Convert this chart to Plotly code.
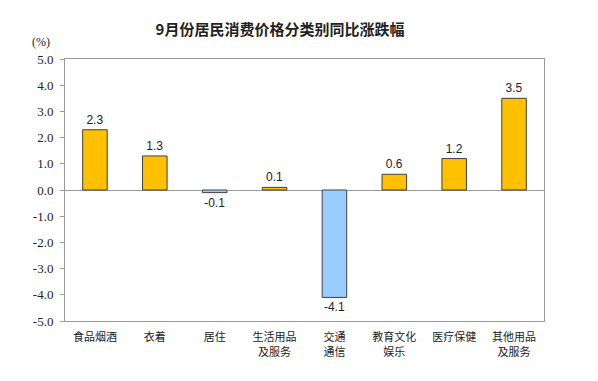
import plotly.graph_objects as go

categories = ["食品烟酒", "衣着", "居住", "生活用品<br>及服务", "交通<br>通信", "教育文化<br>娱乐", "医疗保健", "其他用品<br>及服务"]
values = [2.3, 1.3, -0.1, 0.1, -4.1, 0.6, 1.2, 3.5]
tick_vals = [5, 4, 3, 2, 1, 0, -1, -2, -3, -4, -5]
tick_text = ["5.0", "4.0", "3.0", "2.0", "1.0", "0.0", "-1.0", "-2.0", "-3.0", "-4.0", "-5.0"]
title = "9月份居民消费价格分类别同比涨跌幅"

colors = ["#FFC000" if v >= 0 else "#99CCFF" for v in values]
font = "Noto Sans CJK SC, Liberation Sans, sans-serif"

fig = go.Figure(go.Bar(
    x=list(range(len(categories))), y=values,
    marker=dict(color=colors, line=dict(color="#404040", width=1)),
    width=0.41,
    text=[f"{v:.1f}" for v in values], textposition="outside",
    textfont=dict(family="Liberation Sans, Arial, sans-serif", size=12, color="#222"),
    cliponaxis=False,
))

fig.update_layout(
    width=590, height=373,
    margin=dict(l=57, r=54, t=51, b=60),
    paper_bgcolor="white", plot_bgcolor="white",
    showlegend=False,
    title=dict(text="<b>" + title + "</b>", x=0.461, xanchor="center", y=0.941, yanchor="middle",
               font=dict(family=font, size=15, color="#222")),
    font=dict(family=font, size=11, color="#222"),
)
fig.update_xaxes(
    range=[-0.5, len(categories) - 0.5],
    tickvals=list(range(len(categories))), ticktext=categories,
    showline=True, linecolor="#999", linewidth=1, mirror=True,
    ticks="", showgrid=False, zeroline=False, ticklabelstandoff=6,
    tickfont=dict(family=font, size=11, color="#222"),
)
fig.update_yaxes(
    range=[-5, 5], tickvals=tick_vals, ticktext=tick_text,
    showline=True, linecolor="#999", linewidth=1, mirror=True,
    ticks="outside", ticklen=4, tickcolor="#999", ticklabelstandoff=4,
    showgrid=False, zeroline=True, zerolinecolor="#999", zerolinewidth=1,
    tickfont=dict(family="Liberation Serif, Times New Roman, serif", size=13, color="#222"),
)
fig.add_annotation(text="(%)", xref="paper", yref="paper", x=-0.0276, y=1.065,
                   xanchor="right", yanchor="middle", showarrow=False,
                   font=dict(family="Liberation Serif, serif", size=12, color="#222"))

fig.write_html("out.html")
